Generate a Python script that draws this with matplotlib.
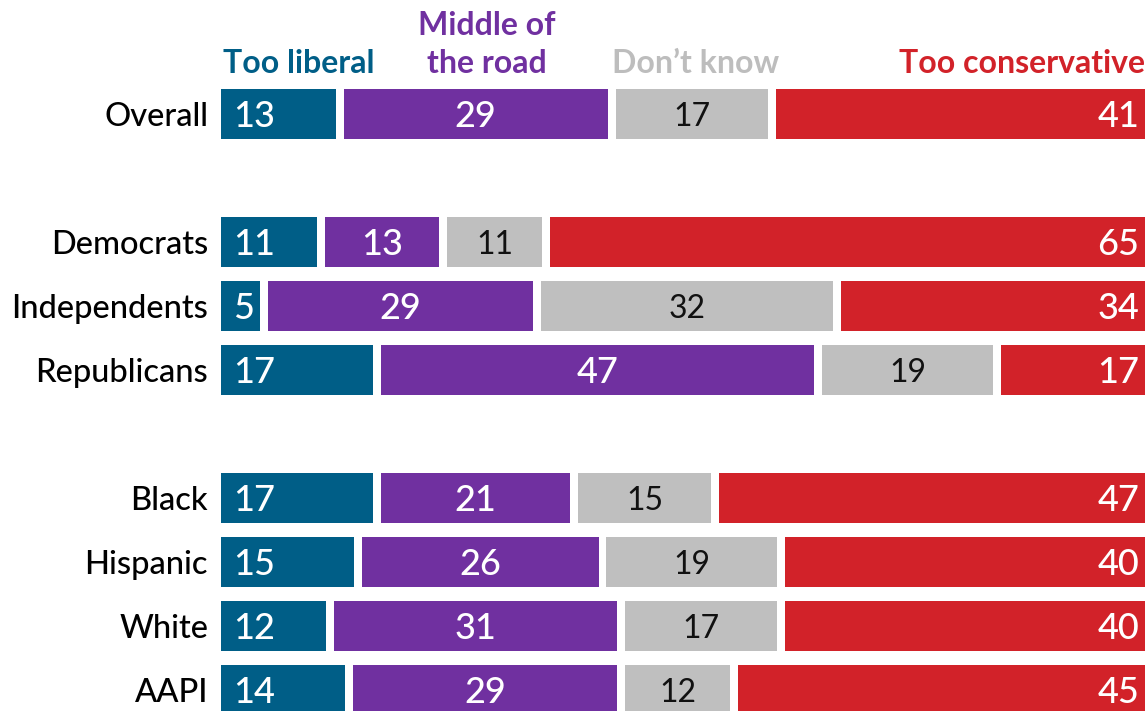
import matplotlib
matplotlib.use("Agg")
import matplotlib.pyplot as plt

# data (percent)
groups = ["Overall", "Democrats", "Independents", "Republicans",
          "Black", "Hispanic", "White", "AAPI"]
too_liberal = [13, 11, 5, 17, 17, 15, 12, 14]
middle = [29, 13, 29, 47, 21, 26, 31, 29]
dont_know = [17, 11, 32, 19, 15, 19, 17, 12]
too_conservative = [41, 65, 34, 17, 47, 40, 40, 45]

categories = ["Too liberal", "Middle of\nthe road", "Don\u2019t know", "Too conservative"]
colors = ["#005E87", "#7030A0", "#BFBFBF", "#D22229"]

# row slots (blank slots between the blocks)
rows = [0, 2, 3, 4, 6, 7, 8, 9]

FONT = ["Lato", "DejaVu Sans"]
plt.rcParams["font.family"] = FONT

fig = plt.figure(figsize=(11.45, 7.11), dpi=100)
ax = fig.add_axes([0, 0, 1, 1])

gap = 0.85  # white gap between segments, in percent units
series = [too_liberal, middle, dont_know, too_conservative]
left = [0] * len(groups)
for k, vals in enumerate(series):
    for i, v in enumerate(vals):
        ax.barh(rows[i], v - gap, left=left[i] + gap / 2, height=0.78,
                color=colors[k], linewidth=0)
        if k == 0:
            ax.text(left[i] + gap / 2 + 1.2, rows[i], str(v), ha="left", va="center_baseline",
                    color="white", fontsize=26, fontweight="medium")
        elif k == 1:
            ax.text(left[i] + v / 2, rows[i], str(v), ha="center", va="center_baseline",
                    color="white", fontsize=26, fontweight="medium")
        elif k == 2:
            ax.text(left[i] + v / 2, rows[i], str(v), ha="center", va="center_baseline",
                    color="#111111", fontsize=23)
        else:
            ax.text(left[i] + v - gap / 2 - 1.4, rows[i], str(v), ha="right", va="center_baseline",
                    color="white", fontsize=26, fontweight="medium")
        left[i] += v

for i, g in enumerate(groups):
    ax.text(-1.0, rows[i], g, ha="right", va="center_baseline", fontsize=23.5,
            fontweight="medium", color="black")

# column headers above the Overall row
hy = -0.64
ax.text(0.6, hy, categories[0], ha="left", va="baseline", color=colors[0],
        fontsize=23, fontweight="bold")
ax.text(28.7, hy, categories[1], ha="center", va="baseline", color=colors[1],
        fontsize=23, fontweight="bold", linespacing=1.38)
ax.text(50.9, hy, categories[2], ha="center", va="baseline", color="#BDBDBD",
        fontsize=23, fontweight="bold")
ax.text(98.8, hy, categories[3], ha="right", va="baseline", color=colors[3],
        fontsize=23, fontweight="bold")

ax.set_xlim(-23.16, 98.77)
ax.set_ylim(9.33, -1.78)
ax.axis("off")

fig.savefig("out.png", dpi=100)
